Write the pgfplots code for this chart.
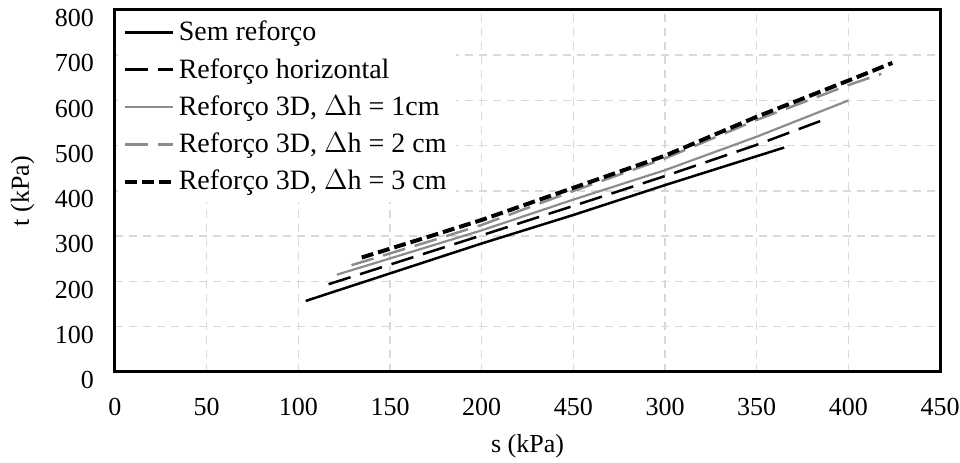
\documentclass[border=0pt]{standalone}
\usepackage{fontspec}
\setmainfont{Liberation Serif}
\usepackage{pgfplots}
\pgfplotsset{compat=1.18}
\definecolor{grayline}{RGB}{140,140,140}
\definecolor{gridgray}{RGB}{217,217,217}
\begin{document}
\begin{tikzpicture}
\begin{axis}[
  scale only axis, width=412.5pt, height=181pt,
  xmin=0, xmax=450, ymin=0, ymax=800,
  xtick={0,50,...,450}, xticklabels={0,50,100,150,200,450,300,350,400,450},
  ytick={0,100,...,800},
  /pgf/number format/assume math mode=true,
  tick label style={font=\fontsize{13}{15}\selectfont},
  xticklabel style={yshift=-9.5pt},
  yticklabel style={xshift=-7pt, yshift=-4pt},
  label style={font=\fontsize{13}{15}\selectfont},
  xlabel={s (kPa)}, ylabel={t (kPa)},
  xlabel style={at={(axis description cs:0.5,-0.205)}, anchor=center},
  ylabel style={at={(axis description cs:-0.112,0.5)}, anchor=center},
  major tick length=0pt,
  axis line style={line width=1.5pt},
  grid=major,
  major grid style={draw=gridgray, line width=0.75pt, dash pattern=on 4pt off 3pt},
  legend style={at={(0,1)}, anchor=north west, draw=none, fill=white,
    font=\fontsize{14}{16}\selectfont, row sep=3.3pt, inner sep=2.5pt, xshift=1.2pt, yshift=-0.8pt},
  legend cell align=left,
  legend image code/.code={\draw[#1] (0pt,0pt) -- (24pt,0pt);},
]
\addplot[black, line width=1.25pt] coordinates {
(104,157) (200,284) (250,347) (300,413) (365,496)};
\addlegendentry{Sem reforço}
\addplot[black, line width=1.25pt, dash pattern=on 11.5pt off 5pt] coordinates {
(116.5,194) (200,302) (250,367) (300,433) (350,502) (387,558)};
\addlegendentry{Reforço horizontal}
\addplot[grayline, line width=1.1pt] coordinates {
(121,215) (200,313) (250,381) (300,446) (350,520) (400,600)};
\addlegendentry{Reforço 3D, $\Delta$h = 1cm}
\addplot[grayline, line width=1.25pt, dash pattern=on 11.5pt off 5pt] coordinates {
(129,236) (175,293) (200,325) (250,400) (300,472) (350,557) (400,634) (418,659)};
\addlegendentry{Reforço 3D, $\Delta$h = 2 cm}
\addplot[black, line width=2pt, dash pattern=on 6pt off 2.5pt] coordinates {
(134.6,253) (175,304) (200,336) (250,407) (300,478) (350,564) (400,644) (424,683)};
\addlegendentry{Reforço 3D, $\Delta$h = 3 cm}
\coordinate (SW) at (rel axis cs:0,0);
\coordinate (NE) at (rel axis cs:1,1);
\end{axis}
\pgfresetboundingbox
\path[use as bounding box] ([shift={(-57.5pt,-45.5pt)}]SW) rectangle ([shift={(10pt,5pt)}]NE);
\end{tikzpicture}
\end{document}
